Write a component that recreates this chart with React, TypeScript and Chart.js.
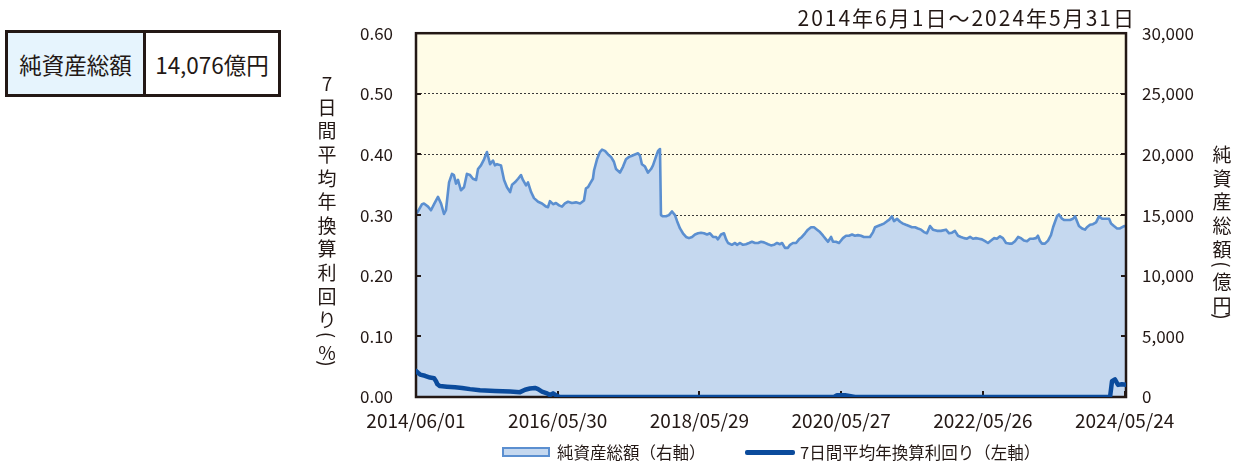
import React, { useEffect, useRef } from 'react';
import { Chart, registerables } from 'chart.js';

Chart.register(...registerables);

// ---------- texts ----------
const periodTitle = '2014年6月1日～2024年5月31日';
const summaryLabel = '純資産総額';
const summaryValue = '14,076億円';
const leftAxisTitle = '7日間平均年換算利回り（%）';
const rightAxisTitle = '純資産総額（億円）';
const navLegend = '純資産総額（右軸）';
const yieldLegend = '7日間平均年換算利回り（左軸）';

// ---------- axes ----------
const startDate = '2014/06/01';
const endDate = '2024/05/31';
const xTickLabels = ['2014/06/01', '2016/05/30', '2018/05/29', '2020/05/27', '2022/05/26', '2024/05/24'];
const leftTickValues = [0, 0.1, 0.2, 0.3, 0.4, 0.5, 0.6];
const rightTickValues = [0, 5000, 10000, 15000, 20000, 25000, 30000];

// ---------- data: [days since 2014/06/01, value] ----------
// 純資産総額 (億円)
const navPoints: [number, number][] = [
  [0, 15100], [10, 15300], [31, 15900], [41, 15950], [62, 15700], [77, 15400], [93, 15900], [113, 16500],
  [129, 15950], [144, 15100], [154, 15400], [170, 17700], [185, 18400], [195, 18300], [206, 17600], [216, 17900],
  [231, 17050], [247, 17300], [262, 18400], [278, 18300], [293, 18000], [309, 17900], [319, 18800], [334, 19100],
  [350, 19600], [365, 20200], [381, 19200], [396, 19500], [406, 19100], [417, 19200], [437, 19100], [453, 17900],
  [468, 17300], [484, 16900], [494, 17500], [509, 17700], [525, 18000], [540, 18300], [550, 17900], [566, 17450],
  [576, 17700], [592, 16900], [607, 16400], [628, 16100], [648, 15960], [669, 15700], [679, 15650], [689, 16150],
  [705, 15900], [720, 16000], [736, 15800], [751, 15700], [766, 15960], [782, 16100], [802, 16000], [823, 16050],
  [844, 15960], [864, 16200], [874, 17200], [885, 17300], [895, 17600], [910, 18000], [916, 18700], [931, 19600],
  [946, 20200], [957, 20400], [972, 20300], [988, 20000], [1003, 19800], [1018, 19400], [1029, 18800], [1049, 18500],
  [1065, 19000], [1080, 19600], [1096, 19800], [1111, 19900], [1126, 20000], [1142, 20100], [1152, 19900], [1162, 19200],
  [1178, 19000], [1193, 18500], [1209, 18800], [1219, 19100], [1234, 19800], [1245, 20300], [1255, 20450], [1260, 15000],
  [1270, 14900], [1286, 14900], [1301, 15000], [1317, 15300], [1332, 15000], [1343, 14500], [1358, 13900], [1373, 13500],
  [1389, 13200], [1404, 13100], [1420, 13200], [1435, 13400], [1451, 13500], [1466, 13550], [1481, 13500], [1497, 13400],
  [1512, 13500], [1528, 13200], [1543, 13200], [1553, 13000], [1569, 13400], [1584, 13500], [1595, 13000], [1605, 12700],
  [1625, 12550], [1641, 12700], [1651, 12550], [1667, 12700], [1682, 12550], [1697, 12600], [1713, 12700], [1728, 12800],
  [1744, 12700], [1759, 12700], [1775, 12800], [1790, 12750], [1811, 12600], [1826, 12500], [1841, 12550], [1857, 12700],
  [1872, 12600], [1883, 12700], [1898, 12300], [1913, 12300], [1924, 12550], [1939, 12700], [1955, 12700], [1970, 13000],
  [1985, 13200], [2001, 13500], [2016, 13800], [2032, 14000], [2047, 14000], [2063, 13800], [2078, 13600], [2094, 13300],
  [2109, 13000], [2119, 12800], [2135, 13200], [2145, 12800], [2160, 12800], [2176, 12700], [2196, 13100], [2212, 13300],
  [2227, 13300], [2243, 13400], [2258, 13300], [2273, 13350], [2289, 13300], [2304, 13200], [2320, 13200], [2335, 13200],
  [2351, 13600], [2361, 14000], [2376, 14100], [2392, 14200], [2407, 14300], [2423, 14500], [2433, 14600], [2448, 14900],
  [2459, 14500], [2474, 14700], [2490, 14450], [2505, 14300], [2520, 14200], [2536, 14100], [2551, 14000], [2567, 14000],
  [2582, 13900], [2598, 13800], [2613, 13600], [2628, 13500], [2644, 14100], [2659, 13800], [2680, 13700], [2700, 13700],
  [2726, 13800], [2742, 13500], [2757, 13550], [2772, 13700], [2788, 13300], [2803, 13200], [2819, 13100], [2834, 13050],
  [2850, 13200], [2865, 13050], [2880, 13100], [2896, 13050], [2911, 13000], [2927, 12850], [2942, 12700], [2958, 12900],
  [2973, 13100], [2988, 13050], [3004, 13250], [3019, 13100], [3035, 12700], [3050, 12650], [3066, 12650], [3081, 12850],
  [3097, 13200], [3112, 13100], [3127, 12900], [3143, 12850], [3158, 13050], [3174, 13050], [3189, 13100], [3199, 13300],
  [3210, 12850], [3220, 12650], [3235, 12650], [3251, 12900], [3266, 13350], [3277, 14000], [3287, 14450], [3297, 14900],
  [3307, 15050], [3323, 14700], [3333, 14600], [3349, 14600], [3364, 14600], [3379, 14700], [3390, 14900], [3400, 14500],
  [3410, 14100], [3426, 13900], [3441, 13800], [3451, 14000], [3467, 14200], [3482, 14250], [3498, 14400], [3513, 14900],
  [3529, 14700], [3549, 14700], [3565, 14700], [3575, 14300], [3590, 14100], [3606, 13900], [3621, 13900], [3642, 14100],
  [3652, 14076],
];

// 7日間平均年換算利回り (%)
const yieldPoints: [number, number][] = [
  [0, 0.043], [10, 0.040], [21, 0.037], [46, 0.035], [72, 0.032], [93, 0.031], [103, 0.026], [110, 0.021],
  [123, 0.018], [159, 0.017], [201, 0.016], [237, 0.015], [278, 0.013], [329, 0.011], [406, 0.010], [484, 0.009],
  [535, 0.008], [561, 0.012], [586, 0.014], [612, 0.015], [628, 0.013], [648, 0.009], [674, 0.006], [689, 0.003],
  [705, 0.006], [725, 0.002], [741, 0.000], [2150, 0.000], [2166, 0.003], [2207, 0.003], [2243, 0.001], [2258, 0.000],
  [3570, 0.000], [3580, 0.026], [3595, 0.029], [3611, 0.020], [3631, 0.021], [3652, 0.020],
];

// ---------- styles ----------
const TEXT = '#231815';
const PLOT_BG = '#FFFCE7';
const NAV_LINE = '#5B8FD0';
const NAV_FILL = '#C5D8EF';
const YIELD_LINE = '#0B4B9C';
const GRID = '#3a3a3a';
const JP = "'Noto Sans CJK JP', 'Noto Sans', sans-serif";

function dayOf(label: string): number {
  const [y, m, d] = label.split('/').map(Number);
  const [sy, sm, sd] = startDate.split('/').map(Number);
  return Math.round((Date.UTC(y, m - 1, d) - Date.UTC(sy, sm - 1, sd)) / 86400000);
}
const xTickDays = xTickLabels.map(dayOf);
const endDay = dayOf(endDate);

// vertical (tategaki) text: parentheses are drawn rotated by 90 degrees
function drawVertical(ctx: CanvasRenderingContext2D, text: string, x: number, y0: number) {
  let y = y0;
  let prev: string | null = null;
  for (const ch of Array.from(text)) {
    if (prev !== null) {
      if (ch === '（') y += 15;
      else if (prev === '（') y += 17.5;
      else if (ch === '）') y += 11;
      else y += 23.6;
    }
    if (ch === '（' || ch === '）') {
      ctx.save();
      ctx.translate(x, y);
      ctx.rotate(Math.PI / 2);
      ctx.fillText(ch === '（' ? '(' : ')', 0, 0);
      ctx.restore();
    } else {
      ctx.fillText(ch, x, y);
    }
    prev = ch;
  }
}

const framePlugin = {
  id: 'frame',
  beforeDraw(chart: any) {
    const { ctx, chartArea: a } = chart;
    ctx.save();
    ctx.fillStyle = PLOT_BG;
    ctx.fillRect(a.left, a.top, a.right - a.left, a.bottom - a.top);
    ctx.restore();
  },
  afterDatasetDraw(chart: any, args: any) {
    if (args.index !== 0) return;
    const { ctx, chartArea: a, scales } = chart;
    ctx.save();
    ctx.strokeStyle = TEXT;
    ctx.lineWidth = 2;
    ctx.beginPath();
    scales.y.ticks.forEach((t: any) => {
      const py = Math.round(scales.y.getPixelForValue(t.value));
      ctx.moveTo(a.left, py);
      ctx.lineTo(a.left + 5, py);
    });
    scales.y2.ticks.forEach((t: any) => {
      const py = Math.round(scales.y2.getPixelForValue(t.value));
      ctx.moveTo(a.right - 5, py);
      ctx.lineTo(a.right, py);
    });
    scales.x.ticks.forEach((t: any) => {
      const px = Math.round(scales.x.getPixelForValue(t.value));
      ctx.moveTo(px, a.bottom - 6);
      ctx.lineTo(px, a.bottom);
    });
    ctx.stroke();
    ctx.lineWidth = 2.5;
    ctx.strokeRect(a.left, a.top, a.right - a.left, a.bottom - a.top);
    ctx.restore();
  },
  afterDraw(chart: any) {
    const { ctx } = chart;
    ctx.save();
    ctx.fillStyle = TEXT;
    ctx.font = `19px ${JP}`;
    ctx.textAlign = 'center';
    ctx.textBaseline = 'middle';
    drawVertical(ctx, leftAxisTitle, 327, 84);
    drawVertical(ctx, rightAxisTitle, 1222, 155);
    ctx.restore();
  },
};

export default function App() {
  const canvasRef = useRef<HTMLCanvasElement | null>(null);

  useEffect(() => {
    const canvas = canvasRef.current;
    if (!canvas) return;
    const chart = new Chart(canvas, {
      type: 'line',
      data: {
        datasets: [
          {
            label: navLegend,
            data: navPoints.map(([x, y]) => ({ x, y })),
            yAxisID: 'y2',
            borderColor: NAV_LINE,
            borderWidth: 2.6,
            borderJoinStyle: 'round',
            backgroundColor: NAV_FILL,
            fill: 'origin',
            pointRadius: 0,
            tension: 0,
            order: 1,
          },
          {
            label: yieldLegend,
            data: yieldPoints.map(([x, y]) => ({ x, y })),
            yAxisID: 'y',
            borderColor: YIELD_LINE,
            borderWidth: 4.5,
            borderJoinStyle: 'round',
            borderCapStyle: 'round',
            fill: false,
            pointRadius: 0,
            tension: 0,
            order: 0,
          },
        ],
      },
      options: {
        animation: false,
        responsive: false,
        devicePixelRatio: 1,
        layout: { padding: { top: 30, left: 0, right: 0, bottom: 0 } },
        plugins: {
          legend: { display: false },
          tooltip: { enabled: false },
          title: { display: false },
        },
        scales: {
          x: {
            type: 'linear',
            min: 0,
            max: endDay,
            grid: { display: false, drawTicks: false },
            border: { display: false },
            afterBuildTicks: (s: any) => {
              s.ticks = xTickDays.map((v) => ({ value: v }));
            },
            afterFit: (s: any) => {
              s.height = 67;
            },
            ticks: {
              autoSkip: false,
              maxRotation: 0,
              padding: 12,
              color: TEXT,
              font: { family: JP, size: 19 },
              callback: (v: any) => {
                const i = xTickDays.indexOf(Number(v));
                return i >= 0 ? xTickLabels[i] : '';
              },
            },
          },
          y: {
            position: 'left',
            min: leftTickValues[0],
            max: leftTickValues[leftTickValues.length - 1],
            grid: { color: GRID, lineWidth: 1, drawTicks: false },
            border: { display: false, dash: [2, 2] },
            afterFit: (s: any) => {
              s.width = 416;
            },
            ticks: {
              stepSize: leftTickValues[1] - leftTickValues[0],
              padding: 23,
              color: TEXT,
              font: { family: JP, size: 17 },
              callback: (v: any) => Number(v).toFixed(2),
            },
          },
          y2: {
            position: 'right',
            min: rightTickValues[0],
            max: rightTickValues[rightTickValues.length - 1],
            grid: { display: false, drawTicks: false },
            border: { display: false },
            afterFit: (s: any) => {
              s.width = 114;
            },
            ticks: {
              stepSize: rightTickValues[1] - rightTickValues[0],
              padding: 16,
              color: TEXT,
              font: { family: JP, size: 17 },
              callback: (v: any) => Number(v).toLocaleString('en-US'),
            },
          },
        },
      } as any,
      plugins: [framePlugin as any],
    });
    return () => chart.destroy();
  }, []);

  const abs = (s: React.CSSProperties): React.CSSProperties => ({ position: 'absolute', ...s });

  return (
    <div style={{ position: 'absolute', left: 0, top: 0, width: 1240, height: 464, fontFamily: JP, color: TEXT, background: '#fff' }}>
      <canvas ref={canvasRef} width={1240} height={464} style={abs({ left: 0, top: 0, width: 1240, height: 464 })} />
      {/* summary box */}
      <div
        style={abs({
          left: 5, top: 30, width: 276, height: 67, boxSizing: 'border-box',
          border: `3px solid ${TEXT}`, display: 'flex', fontSize: 22.5, lineHeight: '26px',
        })}
      >
        <div style={{ width: 135, background: '#E6F4FD', borderRight: `3px solid ${TEXT}`, display: 'flex', alignItems: 'center', justifyContent: 'center' }}>
          {summaryLabel}
        </div>
        <div style={{ flex: 1, display: 'flex', alignItems: 'center', justifyContent: 'center', background: '#fff' }}>
          {summaryValue}
        </div>
      </div>
      {/* period title */}
      <div style={abs({ right: 104, top: 5, fontSize: 21, lineHeight: '24px', letterSpacing: '2px', whiteSpace: 'nowrap' })}>
        {periodTitle}
      </div>
      {/* legend */}
      <div style={abs({ left: 502, top: 447, width: 48, height: 10, boxSizing: 'border-box', background: NAV_FILL, border: `2px solid ${NAV_LINE}` })} />
      <div style={abs({ left: 557, top: 442, fontSize: 16.5, lineHeight: '20px', whiteSpace: 'nowrap' })}>{navLegend}</div>
      <div style={abs({ left: 745, top: 450, width: 50, height: 4.5, background: YIELD_LINE, borderRadius: 2 })} />
      <div style={abs({ left: 800, top: 442, fontSize: 16.5, lineHeight: '20px', whiteSpace: 'nowrap' })}>{yieldLegend}</div>
    </div>
  );
}
